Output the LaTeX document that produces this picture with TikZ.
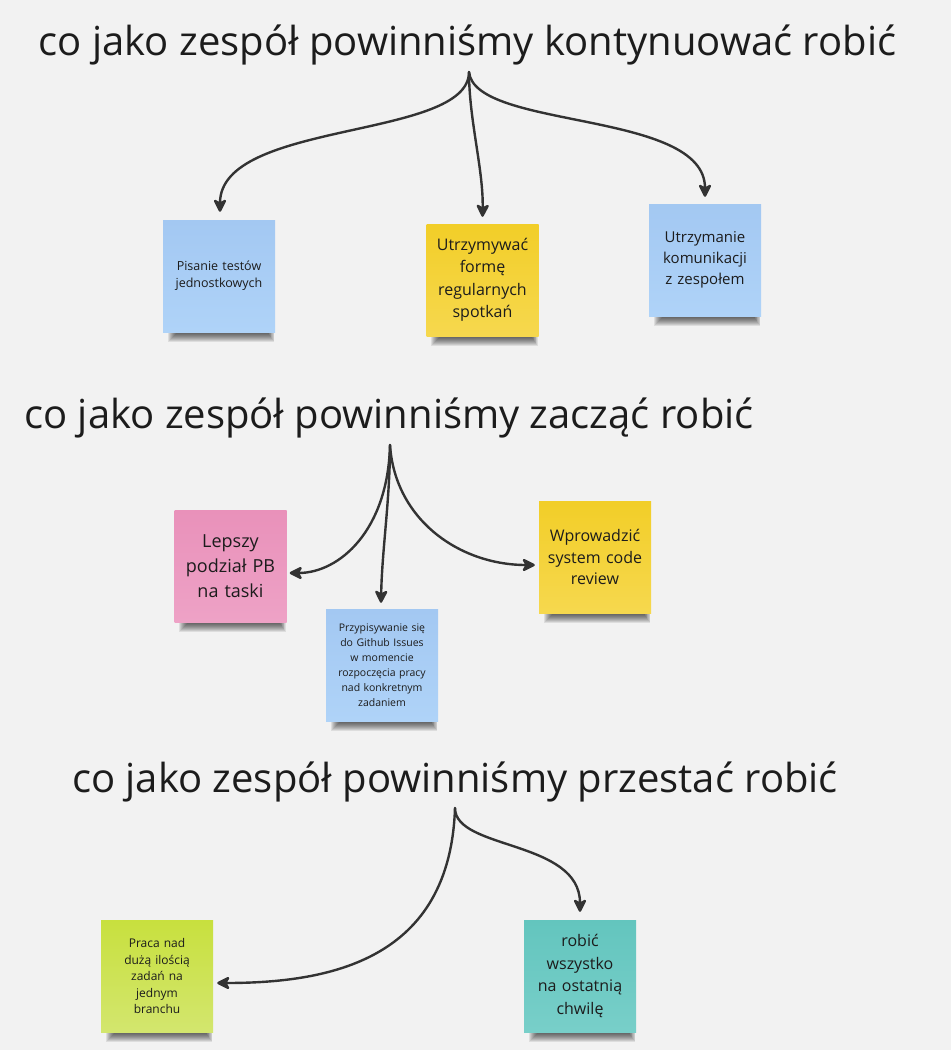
\documentclass[tikz,border=0pt]{standalone}
\usepackage{fontspec}
\setmainfont{Open Sans}
\usetikzlibrary{arrows.meta,calc,backgrounds}
\definecolor{bg}{HTML}{F2F2F2}
\definecolor{ink}{HTML}{1C1C1C}
\definecolor{lineink}{HTML}{333333}
\definecolor{blueT}{HTML}{A3C8F2}
\definecolor{blueB}{HTML}{AFD3F8}
\definecolor{yelT}{HTML}{F2CE28}
\definecolor{yelB}{HTML}{F6D84E}
\definecolor{pinkT}{HTML}{E991BA}
\definecolor{pinkB}{HTML}{EEA2C6}
\definecolor{grnT}{HTML}{C8E03E}
\definecolor{grnB}{HTML}{D3E66E}
\definecolor{tealT}{HTML}{63C5BE}
\definecolor{tealB}{HTML}{78CFC9}
\tikzset{
  title/.style={font=\fontsize{40}{48}\selectfont, text=ink, anchor=base, inner sep=0pt},
  note/.style={minimum width=112pt, minimum height=112pt, inner sep=0pt, align=center,
    text width=104pt, text=ink},
  bluenote/.style={note, top color=blueT, bottom color=blueB},
  yelnote/.style={note, top color=yelT, bottom color=yelB},
  pinknote/.style={note, top color=pinkT, bottom color=pinkB},
  grnnote/.style={note, top color=grnT, bottom color=grnB},
  tealnote/.style={note, top color=tealT, bottom color=tealB},
  shadowlayer/.style={fill=black, opacity=0.085},
  conn/.style={draw=lineink, line width=2.4pt, line cap=round,
    -{Stealth[length=15pt, width=15pt, inset=4pt, round]}},
}
\newcommand\noteshadow[1]{%
  \foreach \k in {0,...,9}{%
    \fill[shadowlayer] ($(#1.south west)+(5+\k,-4)$) rectangle ($(#1.south east)+(-1-0.7*\k,10-\k)$);}}
\begin{document}
\begin{tikzpicture}[x=1pt, y=-1pt]
\useasboundingbox (0,0) rectangle (951,1050);

% titles
\node[title] (t1) at (467.5,55) {co jako zespół powinniśmy kontynuować robić};
\node[title] (t2) at (389,428) {co jako zespół powinniśmy zacząć robić};
\node[title] (t3) at (455,792) {co jako zespół powinniśmy przestać robić};

\coordinate (o1) at (469,72);
\coordinate (o2) at (390,445);
\coordinate (o3) at (455,808);

% notes group 1
\node[bluenote, font=\fontsize{12.5}{17}\selectfont] (n11) at (219,276) {Pisanie testów\\jednostkowych};
\node[yelnote, font=\fontsize{16}{22.5}\selectfont] (n12) at (482.5,280) {Utrzymywać\\formę\\regularnych\\spotkań};
\node[bluenote, font=\fontsize{15}{21}\selectfont] (n13) at (705,260) {Utrzymanie\\komunikacji\\z zespołem};

% notes group 2
\node[pinknote, font=\fontsize{18}{25}\selectfont] (n21) at (230.5,566) {Lepszy\\podział PB\\na taski};
\node[bluenote, font=\fontsize{10.5}{15}\selectfont] (n22) at (382,665) {Przypisywanie się\\do Github Issues\\w momencie\\rozpoczęcia pracy\\nad konkretnym\\zadaniem};
\node[yelnote, font=\fontsize{16}{21.5}\selectfont] (n23) at (595,557) {Wprowadzić\\system code\\review};

% notes group 3
\node[grnnote, font=\fontsize{12}{16.5}\selectfont] (n31) at (157,976) {Praca nad\\dużą ilością\\zadań na\\jednym\\branchu};
\node[tealnote, font=\fontsize{16}{22.5}\selectfont] (n32) at (580,976) {robić\\wszystko\\na ostatnią\\chwilę};

\begin{scope}[on background layer]
  \fill[bg] (0,0) rectangle (951,1050);
  \noteshadow{n11}\noteshadow{n12}\noteshadow{n13}
  \noteshadow{n21}\noteshadow{n22}\noteshadow{n23}
  \noteshadow{n31}\noteshadow{n32}
\end{scope}

% connectors group 1
\draw[conn] (o1) .. controls +(0,68) and +(0,-92) .. ($(n11.north)+(1,-8)$);
\draw[conn] (o1) .. controls +(0,48) and +(1,-47) .. ($(n12.north)+(0,-7)$);
\draw[conn] (o1) .. controls +(6,58) and +(0,-87) .. ($(n13.north)+(0,-7)$);

% connectors group 2
\draw[conn] (o2) .. controls +(-2,85) and +(50,0) .. ($(n21.east)+(3,7)$);
\draw[conn] (o2) .. controls +(0,55) and +(1,-53) .. ($(n22.north)+(-1,-6)$);
\draw[conn] (o2) .. controls +(5,75) and +(-75,0) .. ($(n23.west)+(-4,8)$);

% connectors group 3
\draw[conn] (o3) .. controls +(-5,152) and +(113,0) .. ($(n31.east)+(4,7)$);
\draw[conn] (o3) .. controls +(0,42) and +(0,-72) .. ($(n32.north)+(0,-8)$);
\end{tikzpicture}
\end{document}
